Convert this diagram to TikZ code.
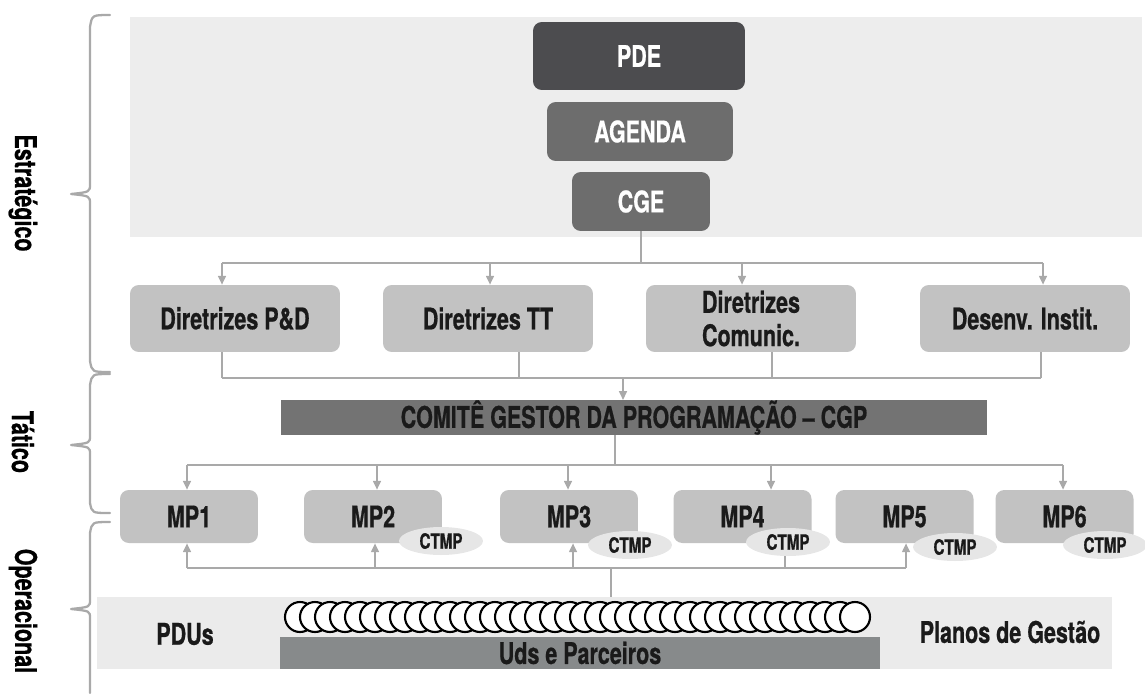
\documentclass[tikz,border=0pt]{standalone}
\usepackage{fontspec}
\setmainfont{TeX Gyre Heros}[FakeStretch=0.72,BoldFeatures={FakeBold=0.6}]
\usetikzlibrary{arrows.meta,shapes.geometric}
\definecolor{stratbg}{HTML}{EDEDED}
\definecolor{pdegray}{HTML}{4C4C4F}
\definecolor{midgray}{HTML}{6D6D6D}
\definecolor{boxgray}{HTML}{C2C2C2}
\definecolor{cgpgray}{HTML}{737373}
\definecolor{ctmpgray}{HTML}{E6E6E6}
\definecolor{bandgray}{HTML}{EBEBEB}
\definecolor{udsgray}{HTML}{878A8B}
\definecolor{linegray}{HTML}{A9A9A9}
\definecolor{inkgray}{HTML}{1A1A1A}

\begin{document}
\begin{tikzpicture}[x=0.02cm,y=-0.02cm,
    font=\fontsize{17}{19}\selectfont\bfseries,text=inkgray,
    box/.style={rounded corners=5pt,inner sep=0pt,align=center},
    topbox/.style={box,text=white,minimum height=1.18cm},
    dirbox/.style={box,fill=boxgray,minimum width=4.2cm,minimum height=1.34cm},
    mpbox/.style={box,fill=boxgray,minimum width=2.76cm,minimum height=1.06cm},
    ctmp/.style={ellipse,fill=ctmpgray,minimum width=1.68cm,minimum height=0.56cm,
        inner sep=0pt,font=\fontsize{12}{14}\selectfont\bfseries},
    bar/.style={inner sep=0pt},
    line/.style={draw=linegray,line width=0.9pt},
    arr/.style={line,-{Triangle[length=5pt,width=4.5pt]}},
    sidebrace/.style={draw=linegray,line width=1.3pt,line cap=round,line join=round}]

    \useasboundingbox (0,0) rectangle (1145,693);

    % strategic level
    \node (strat) [bar,fill=stratbg,minimum width=20.24cm,minimum height=4.4cm] at (636,127) {};
    \node (pde) [topbox,fill=pdegray,minimum width=4.24cm,minimum height=1.36cm] at (639,56) {PDE};
    \node (agenda) [topbox,fill=midgray,minimum width=3.72cm] at (640,131.5) {AGENDA};
    \node (cge) [topbox,fill=midgray,minimum width=2.76cm] at (641,201.5) {CGE};

    \node (d1) [dirbox] at (235,318.5) {Diretrizes P\&D};
    \node (d2) [dirbox] at (488,318.5) {Diretrizes TT};
    \node (d3) [dirbox] at (751,318.5) {Diretrizes\\Comunic.};
    \node (d4) [dirbox] at (1025,318.5) {Desenv. Instit.};

    \coordinate (j0) at (641,263);
    \draw[line] (cge.south) -- (j0);
    \foreach \n/\x in {d1/222,d2/490,d3/742,d4/1043} {
        \coordinate (a\n) at (\x,263);
        \draw[arr] (a\n) -- (a\n |- \n.north);
    }
    \draw[line] (ad1) -- (ad4);

    % tactical level
    \node (cgp) [bar,fill=cgpgray,minimum width=14.12cm,minimum height=0.62cm] at (634,417.5)
        {COMITÊ GESTOR DA PROGRAMAÇÃO – CGP};

    \foreach \n/\x in {d1/222,d2/519,d3/772,d4/1041} {
        \coordinate (b\n) at (\x,378);
        \draw[line] (b\n |- \n.south) -- (b\n);
    }
    \draw[line] (bd1) -- (bd4);
    \coordinate (j1) at (623,378);
    \draw[arr] (j1) -- (j1 |- cgp.north);

    % operational level
    \node (mp1) [mpbox] at (189,516.5) {MP1};
    \node (mp2) [mpbox] at (373,516.5) {MP2};
    \node (mp3) [mpbox] at (569,516.5) {MP3};
    \node (mp4) [mpbox] at (742.5,516.5) {\raisebox{-3pt}{MP4}};
    \node (mp5) [mpbox] at (904.5,516.5) {MP5};
    \node (mp6) [mpbox] at (1064.5,516.5) {MP6};

    \node (ct2) [ctmp] at (441,541) {CTMP};
    \node (ct3) [ctmp] at (630,545) {CTMP};
    \node (ct4) [ctmp] at (788,542) {CTMP};
    \node (ct5) [ctmp] at (955,547) {CTMP};
    \node (ct6) [ctmp] at (1105,545) {CTMP};

    \coordinate (j2) at (615,465);
    \draw[line] (j2 |- cgp.south) -- (j2);
    \foreach \n/\x in {mp1/187,mp2/377,mp3/568,mp4/771,mp6/1063} {
        \coordinate (c\n) at (\x,465);
        \draw[arr] (c\n) -- (c\n |- \n.north);
    }
    \draw[line] (cmp1) -- (cmp6);

    \node (band) [bar,fill=bandgray,minimum width=20.3cm,minimum height=1.44cm] at (604.5,633) {};
    \node (uds) [bar,fill=udsgray,minimum width=12cm,minimum height=0.64cm] at (580,653) {Uds e Parceiros};
    \node (pdus) at (185,634) {PDUs};
    \node (planos) at (1010,632) {Planos de Gestão};

    \foreach \n/\x in {mp1/187,mp2/375,mp3/573,mp5/906} {
        \coordinate (u\n) at (\x,568);
        \draw[arr] (u\n) -- (u\n |- \n.south);
    }
    \draw[line] (ump1) -- (ump5);
    \coordinate (u4) at (785,568);
    \draw[line] (ct4.south -| u4) -- (u4);
    \coordinate (j3) at (611,568);
    \draw[line] (j3) -- (j3 |- band.north);

    \foreach \i in {0,...,37}
        \draw[fill=white,line width=1.2pt] (300+\i*15,617) circle (0.3cm);

    % level braces
    \draw[sidebrace] (110,15) .. controls (92,15) .. (90,27) -- (90,184)
        .. controls (90,192) .. (71,194) .. controls (90,196) .. (90,204) -- (90,361)
        .. controls (92,372) .. (110,372);
    \draw[sidebrace] (110,374) .. controls (92,374) .. (90,385) -- (90,436)
        .. controls (90,443) .. (71,445) .. controls (90,447) .. (90,454) -- (90,503)
        .. controls (92,513) .. (110,513);
    \draw[sidebrace] (110,522) .. controls (92,522) .. (90,533) -- (90,600)
        .. controls (90,607) .. (71,609) .. controls (90,611) .. (90,618) -- (90,693);
    \node (strategico) [rotate=-90,text=black] at (23,193) {Estratégico};
    \node (tatico) [rotate=-90,text=black] at (23,442) {Tático};
    \node (operacional) [rotate=-90,text=black] at (23,611) {Operacional};
\end{tikzpicture}
\end{document}
